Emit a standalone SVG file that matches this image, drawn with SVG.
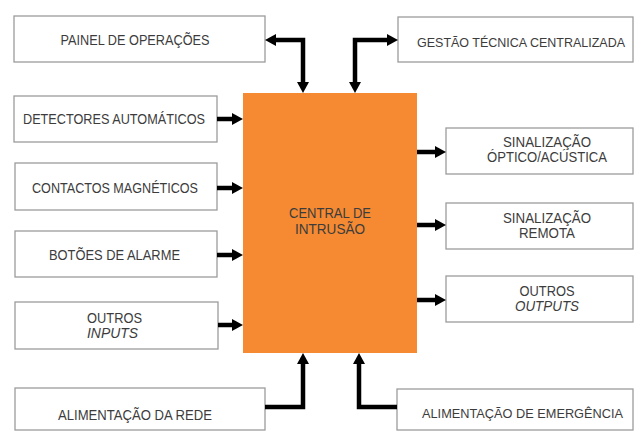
<svg xmlns="http://www.w3.org/2000/svg" width="635" height="431" viewBox="0 0 635 431">
<style>
.box{fill:#fff;stroke:#9c9c9c;stroke-width:1.3}
.t{font-family:"Liberation Sans",Arial,sans-serif;font-size:14px;fill:#3c3c3c;text-anchor:middle}
.s{font-size:13px}
.c{fill:none;stroke:#000;stroke-width:4.5}
</style>
<defs>
<marker id="ah" markerUnits="userSpaceOnUse" markerWidth="11" markerHeight="12" refX="2" refY="6" orient="auto-start-reverse" viewBox="0 0 11 12">
<path d="M0,0 L11,6 L0,12 z" fill="#000"/>
</marker>
</defs>
<rect width="635" height="431" fill="#fff"/>
<g id="central">
<rect x="243" y="93" width="174" height="260" fill="#F58A32"/>
<text class="t" x="330" y="218" textLength="82" lengthAdjust="spacingAndGlyphs">CENTRAL DE</text>
<text class="t" x="330" y="234" textLength="70" lengthAdjust="spacingAndGlyphs">INTRUSÃO</text>
</g>
<g id="painel">
<rect class="box" x="14" y="16" width="251" height="46"/>
<text class="t" x="135" y="45" textLength="149" lengthAdjust="spacingAndGlyphs">PAINEL DE OPERAÇÕES</text>
</g>
<g id="detectores">
<rect class="box" x="14" y="96" width="203" height="46"/>
<text class="t" x="114" y="124" textLength="182" lengthAdjust="spacingAndGlyphs">DETECTORES AUTOMÁTICOS</text>
</g>
<g id="contactos">
<rect class="box" x="15" y="163" width="202" height="47"/>
<text class="t" x="115" y="193" textLength="166" lengthAdjust="spacingAndGlyphs">CONTACTOS MAGNÉTICOS</text>
</g>
<g id="botoes">
<rect class="box" x="15" y="231" width="202" height="46"/>
<text class="t" x="114.5" y="260" textLength="131" lengthAdjust="spacingAndGlyphs">BOTÕES DE ALARME</text>
</g>
<g id="outros-inputs">
<rect class="box" x="15" y="302" width="203" height="47"/>
<text class="t" x="114.5" y="323" textLength="55" lengthAdjust="spacingAndGlyphs">OUTROS</text>
<text class="t" x="112.5" y="338" font-style="italic" textLength="51" lengthAdjust="spacingAndGlyphs">INPUTS</text>
</g>
<g id="rede">
<rect class="box" x="15" y="388" width="250" height="42"/>
<text class="t" x="135" y="420" textLength="154" lengthAdjust="spacingAndGlyphs">ALIMENTAÇÃO DA REDE</text>
</g>
<g id="gestao">
<rect class="box" x="398" y="17" width="235" height="45"/>
<text class="t s" x="521" y="47" textLength="208" lengthAdjust="spacingAndGlyphs">GESTÃO TÉCNICA CENTRALIZADA</text>
</g>
<g id="sinal-optico">
<rect class="box" x="446" y="128" width="187" height="46"/>
<text class="t" x="547" y="147" textLength="88" lengthAdjust="spacingAndGlyphs">SINALIZAÇÃO</text>
<text class="t" x="547" y="162" textLength="120" lengthAdjust="spacingAndGlyphs">ÓPTICO/ACÚSTICA</text>
</g>
<g id="sinal-remota">
<rect class="box" x="446" y="203" width="187" height="46"/>
<text class="t" x="547" y="223" textLength="88" lengthAdjust="spacingAndGlyphs">SINALIZAÇÃO</text>
<text class="t" x="547" y="238" textLength="56" lengthAdjust="spacingAndGlyphs">REMOTA</text>
</g>
<g id="outros-outputs">
<rect class="box" x="446" y="276" width="187" height="46"/>
<text class="t" x="547" y="296" textLength="55" lengthAdjust="spacingAndGlyphs">OUTROS</text>
<text class="t" x="547" y="311" font-style="italic" textLength="64" lengthAdjust="spacingAndGlyphs">OUTPUTS</text>
</g>
<g id="emergencia">
<rect class="box" x="397" y="389" width="236" height="41"/>
<text class="t s" x="522.5" y="418" textLength="201" lengthAdjust="spacingAndGlyphs">ALIMENTAÇÃO DE EMERGÊNCIA</text>
</g>
<g id="connectors">
<path class="c" d="M274,40 H303 V84" marker-start="url(#ah)" marker-end="url(#ah)"/>
<path class="c" d="M355,84 V40 H389" marker-start="url(#ah)" marker-end="url(#ah)"/>
<path class="c" d="M217,119 H234" marker-end="url(#ah)"/>
<path class="c" d="M217,188 H234" marker-end="url(#ah)"/>
<path class="c" d="M217,255 H234" marker-end="url(#ah)"/>
<path class="c" d="M218,325 H234" marker-end="url(#ah)"/>
<path class="c" d="M417,152 H437" marker-end="url(#ah)"/>
<path class="c" d="M417,225 H437" marker-end="url(#ah)"/>
<path class="c" d="M417,300 H437" marker-end="url(#ah)"/>
<path class="c" d="M265,407 H303 V362" marker-end="url(#ah)"/>
<path class="c" d="M397,407 H359 V362" marker-end="url(#ah)"/>
</g>
</svg>
